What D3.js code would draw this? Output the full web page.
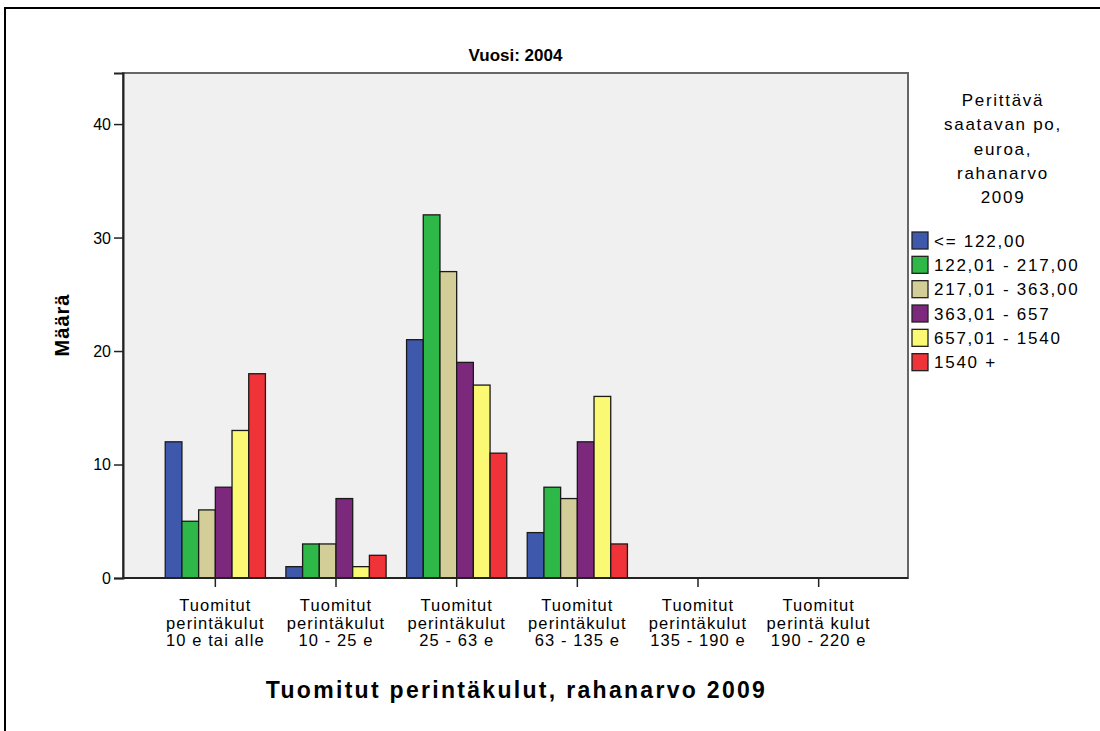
<!DOCTYPE html>
<html>
<head>
<meta charset="utf-8">
<script src="https://cdn.jsdelivr.net/npm/d3@7"></script>
<style>
  html, body { margin: 0; padding: 0; background: #ffffff; }
  svg { display: block; }
  text { font-family: "Liberation Sans", Arial, sans-serif; fill: #000; }
</style>
</head>
<body>
<script>
// ---------------- DATA ----------------
const panelTitle = "Vuosi: 2004";
const categories = [
  "Tuomitut\nperintäkulut\n10 e tai alle",
  "Tuomitut\nperintäkulut\n10 - 25 e",
  "Tuomitut\nperintäkulut\n25 - 63 e",
  "Tuomitut\nperintäkulut\n63 - 135 e",
  "Tuomitut\nperintäkulut\n135 - 190 e",
  "Tuomitut\nperintä kulut\n190 - 220 e"
];
const seriesNames = ["<= 122,00", "122,01 - 217,00", "217,01 - 363,00", "363,01 - 657", "657,01 - 1540", "1540 +"];
const seriesColors = ["#3e58ac", "#2eb848", "#d3ce97", "#7c287d", "#fbf873", "#ef3338"];
const valuesLe122   = [12, 1, 21, 4, 0, 0];
const values122_217 = [5, 3, 32, 8, 0, 0];
const values217_363 = [6, 3, 27, 7, 0, 0];
const values363_657 = [8, 7, 19, 12, 0, 0];
const values657_1540 = [13, 1, 17, 16, 0, 0];
const values1540plus = [18, 2, 11, 3, 0, 0];
const seriesValues = [valuesLe122, values122_217, values217_363, values363_657, values657_1540, values1540plus];
const yTicks = [0, 10, 20, 30, 40];
const yMax = 44.5;
const yTitle = "Määrä";
const xTitle = "Tuomitut perintäkulut, rahanarvo 2009";
const legendTitle = ["Perittävä", "saatavan po,", "euroa,", "rahanarvo", "2009"];

// ---------------- LAYOUT ----------------
const W = 1100, H = 731;
const plot = { left: 123, right: 908, top: 73, bottom: 578 };

const svg = d3.select("body").append("svg").attr("width", W).attr("height", H);

// outer frame (top & left visible)
svg.append("path")
  .attr("d", `M5,${H} L5,8 L${W},8`)
  .attr("fill", "none").attr("stroke", "#000").attr("stroke-width", 2);

// plot background
svg.append("rect")
  .attr("x", plot.left).attr("y", plot.top)
  .attr("width", plot.right - plot.left).attr("height", plot.bottom - plot.top)
  .attr("fill", "#f0f0f0").attr("stroke", "#666").attr("stroke-width", 2);

// scales
const x0 = d3.scaleBand().domain(categories).range([155, 879]).padding(0);
const x1 = d3.scaleBand().domain(seriesNames).range([0, x0.bandwidth()]).paddingOuter(0.613).paddingInner(0);
const y = d3.scaleLinear().domain([0, yMax]).range([plot.bottom, plot.top]);

// bars
const barData = [];
categories.forEach((c, ci) => {
  seriesNames.forEach((s, si) => {
    barData.push({ cat: c, series: s, color: seriesColors[si], v: seriesValues[si][ci] });
  });
});
svg.append("g").selectAll("rect")
  .data(barData.filter(d => d.v > 0))
  .join("rect")
  .attr("x", d => x0(d.cat) + x1(d.series))
  .attr("y", d => y(d.v))
  .attr("width", x1.bandwidth())
  .attr("height", d => y(0) - y(d.v))
  .attr("fill", d => d.color)
  .attr("stroke", "#1a1a1a").attr("stroke-width", 1.3);

// y axis
const yAxis = svg.append("g")
  .attr("transform", `translate(${plot.left},0)`)
  .call(d3.axisLeft(y).tickValues(yTicks).tickSize(9).tickPadding(3).tickFormat(d3.format("d")));
yAxis.select(".domain").attr("stroke", "#222").attr("stroke-width", 2);
yAxis.selectAll(".tick line").attr("stroke", "#222").attr("stroke-width", 1.5);
yAxis.selectAll(".tick text")
  .attr("font-size", 16).attr("font-family", "Liberation Sans, Arial, sans-serif")
  .attr("fill", "#000").attr("dy", "0.34em");

// x axis
const xAxis = svg.append("g")
  .attr("transform", `translate(0,${plot.bottom})`)
  .call(d3.axisBottom(x0).tickSize(9).tickFormat(""));
xAxis.select(".domain").attr("stroke", "#222").attr("stroke-width", 2)
  .attr("d", `M${plot.left},0H${plot.right}`);
xAxis.selectAll(".tick line").attr("stroke", "#222").attr("stroke-width", 1.5);
xAxis.selectAll(".tick").each(function(d) {
  const lines = d.split("\n");
  const t = d3.select(this).append("text")
    .attr("text-anchor", "middle")
    .attr("font-size", 16.5)
    .attr("letter-spacing", 1.1)
    .attr("fill", "#000");
  lines.forEach((ln, i) => {
    t.append("tspan").attr("x", 0).attr("y", 33 + i * 17.5).text(ln);
  });
});

// panel title
svg.append("text")
  .attr("x", (plot.left + plot.right) / 2).attr("y", 61)
  .attr("text-anchor", "middle").attr("font-size", 17).attr("font-weight", "bold")
  .text(panelTitle);

// y title
svg.append("text")
  .attr("transform", `translate(69,325) rotate(-90)`)
  .attr("text-anchor", "middle").attr("font-size", 20).attr("font-weight", "bold")
  .attr("letter-spacing", 1)
  .text(yTitle);

// x title
svg.append("text")
  .attr("x", (plot.left + plot.right) / 2 + 1).attr("y", 698)
  .attr("text-anchor", "middle").attr("font-size", 23).attr("font-weight", "bold")
  .attr("letter-spacing", 2.3)
  .text(xTitle);

// legend
const lg = svg.append("g");
legendTitle.forEach((ln, i) => {
  lg.append("text")
    .attr("x", 1003).attr("y", 106 + i * 24.3)
    .attr("text-anchor", "middle").attr("font-size", 17).attr("letter-spacing", 1.7)
    .text(ln);
});
const legendY = d3.scaleBand().domain(seriesNames).range([228, 374]);
const items = lg.selectAll("g.item").data(seriesNames).join("g").attr("class", "item")
  .attr("transform", d => `translate(0,${legendY(d)})`);
items.append("rect")
  .attr("x", 912).attr("y", 4).attr("width", 16).attr("height", 17)
  .attr("fill", (d, i) => seriesColors[i]).attr("stroke", "#222").attr("stroke-width", 1.3);
items.append("text")
  .attr("x", 934).attr("y", 18.5)
  .attr("font-size", 17).attr("letter-spacing", 1.75)
  .text(d => d);
</script>
</body>
</html>
